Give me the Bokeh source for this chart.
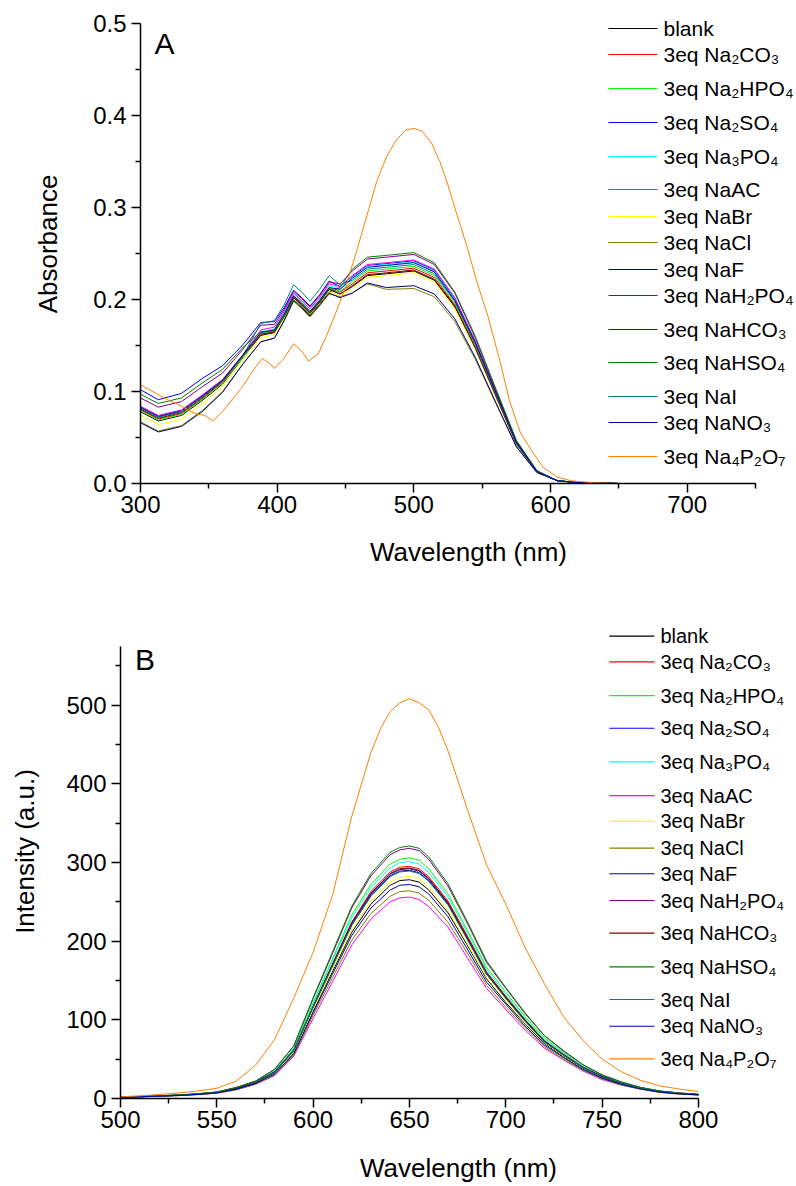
from bokeh.plotting import figure
from bokeh.models import Range1d, FixedTicker, PrintfTickFormatter, Label, ColumnDataSource
from bokeh.layouts import column
from bokeh.embed import file_html
from bokeh.resources import INLINE

FONT = "Liberation Sans"

# ---------------- Panel A: absorbance ----------------
wl_a = [300, 313, 330, 345, 360, 375, 388, 398, 405, 412, 418, 424, 431, 438, 446,
        455, 466, 480, 500, 515, 530, 545, 560, 575, 590, 605, 620, 650, 700, 750]

abs_blank = [.078, .068, .074, .090, .108, .137, .161, .164, .181, .202, .194, .185, .197, .211, .206,
             .214, .226, .228, .231, .221, .192, .147, .095, .043, .013, .003, .001, 0, 0, 0]
abs_na2co3 = [.080, .070, .076, .092, .110, .138, .162, .165, .182, .203, .195, .186, .198, .212, .208,
              .217, .229, .231, .234, .224, .194, .149, .096, .044, .013, .003, .001, 0, 0, 0]
abs_na2hpo4 = [.079, .069, .075, .091, .109, .137, .163, .166, .183, .204, .196, .187, .199, .213, .209,
               .219, .231, .233, .236, .226, .196, .150, .097, .044, .013, .003, .001, 0, 0, 0]
abs_na2so4 = [.102, .091, .098, .114, .128, .151, .175, .176, .191, .210, .202, .193, .205, .220, .214,
              .225, .237, .239, .242, .232, .201, .154, .099, .045, .013, .003, .001, 0, 0, 0]
abs_na3po4 = [.082, .072, .078, .094, .112, .139, .165, .168, .185, .206, .198, .189, .201, .215, .212,
              .224, .236, .238, .241, .231, .200, .153, .099, .045, .013, .003, .001, 0, 0, 0]
abs_naac = [.084, .074, .080, .096, .113, .140, .167, .170, .187, .207, .199, .190, .202, .217, .214,
            .226, .238, .240, .243, .233, .202, .154, .100, .045, .013, .003, .001, 0, 0, 0]
abs_nabr = [.074, .064, .070, .086, .105, .134, .158, .162, .179, .200, .192, .184, .195, .209, .204,
            .212, .224, .226, .229, .219, .190, .146, .094, .043, .013, .003, .001, 0, 0, 0]
abs_nacl = [.067, .057, .063, .079, .100, .130, .154, .158, .176, .198, .190, .181, .193, .206, .203,
            .207, .217, .211, .212, .203, .176, .135, .087, .040, .012, .003, .001, 0, 0, 0]
abs_naf = [.066, .056, .062, .078, .099, .130, .154, .158, .177, .199, .191, .182, .194, .207, .202,
           .207, .218, .213, .215, .206, .179, .137, .088, .040, .012, .003, .001, 0, 0, 0]
abs_nah2po4 = [.093, .083, .089, .105, .120, .146, .172, .173, .189, .209, .201, .192, .204, .219, .217,
               .231, .244, .246, .249, .238, .207, .158, .102, .046, .014, .003, .001, 0, 0, 0]
abs_nahco3 = [.081, .071, .077, .093, .111, .139, .162, .165, .181, .202, .194, .185, .197, .211, .206,
              .215, .227, .229, .232, .222, .193, .147, .095, .043, .013, .003, .001, 0, 0, 0]
abs_nahso4 = [.097, .087, .093, .109, .124, .148, .165, .166, .181, .200, .192, .183, .195, .208, .213,
              .233, .246, .248, .251, .240, .208, .160, .103, .047, .014, .003, .001, 0, 0, 0]
abs_nai = [.082, .072, .078, .094, .112, .139, .174, .177, .194, .216, .208, .198, .211, .226, .216,
           .221, .233, .235, .238, .228, .198, .151, .098, .044, .013, .003, .001, 0, 0, 0]
abs_nano3 = [.083, .073, .079, .095, .112, .140, .164, .167, .184, .204, .196, .187, .199, .213, .211,
             .223, .235, .237, .240, .230, .199, .153, .099, .045, .013, .003, .001, 0, 0, 0]

wl_a_p2o7 = [300, 310, 320, 330, 340, 347, 353, 360, 368, 375, 382, 389, 394, 398, 405, 412,
             418, 423, 430, 436, 443, 450, 458, 466, 473, 480, 487, 494, 500, 506, 513, 519,
             524, 531, 539, 546, 554, 563, 570, 578, 586, 595, 605, 615, 630, 650, 700, 750]
abs_na4p2o7 = [.107, .099, .091, .084, .076, .074, .068, .078, .093, .106, .122, .136, .131, .125, .136, .152,
               .144, .133, .141, .160, .186, .213, .252, .293, .329, .355, .373, .384, .386, .383, .370, .350,
               .329, .295, .257, .220, .183, .133, .090, .055, .036, .017, .007, .003, .001, 0, 0, 0]

# ---------------- Panel B: emission ----------------
wl_b = [500, 510, 520, 530, 540, 550, 560, 570, 580, 590, 600, 610, 620, 630, 640, 645, 650,
        655, 660, 670, 680, 690, 700, 710, 720, 730, 740, 750, 760, 770, 780, 790, 800]

fl_blank = [1.7, 2.2, 3.1, 3.9, 5.3, 7.2, 12, 19, 32, 58, 111, 161, 211, 247, 271, 277, 278,
            275, 265, 236, 195, 152, 122, 95, 70, 53, 38, 26, 18, 13, 8.3, 6.1, 4.7]
fl_na2co3 = [1.8, 2.4, 3.2, 4.1, 5.6, 7.7, 13, 21, 34, 62, 118, 171, 224, 263, 288, 294, 295,
             292, 282, 251, 207, 161, 130, 100, 74, 56, 40, 28, 19, 13, 8.9, 6.5, 5.0]
fl_na2hpo4 = [1.8, 2.4, 3.4, 4.3, 5.8, 8.0, 13, 21, 35, 64, 122, 177, 233, 272, 298, 304, 306,
              303, 292, 260, 214, 167, 135, 104, 77, 58, 41, 29, 20, 14, 9.2, 6.7, 5.2]
fl_na2so4 = [1.8, 2.3, 3.2, 4.1, 5.5, 7.6, 13, 20, 34, 61, 117, 169, 222, 260, 285, 291, 292,
             289, 279, 248, 204, 159, 128, 99, 73, 55, 39, 28, 19, 13, 8.8, 6.4, 5.0]
fl_na3po4 = [1.8, 2.4, 3.3, 4.2, 5.7, 7.8, 13, 21, 35, 63, 120, 175, 229, 268, 293, 300, 301,
             298, 287, 256, 211, 164, 132, 102, 75, 57, 41, 29, 20, 14, 9.0, 6.6, 5.1]
fl_naac = [1.5, 2.0, 2.8, 3.6, 4.9, 6.7, 11, 18, 29, 54, 102, 148, 195, 228, 250, 255, 256,
           253, 244, 218, 179, 140, 113, 87, 64, 49, 35, 24, 17, 12, 7.7, 5.6, 4.4]
fl_nabr = [1.7, 2.3, 3.1, 3.9, 5.4, 7.3, 12, 20, 32, 59, 113, 164, 214, 251, 275, 281, 282,
           279, 269, 240, 197, 154, 124, 96, 71, 54, 38, 27, 18, 13, 8.5, 6.2, 4.8]
fl_nacl = [1.6, 2.1, 2.9, 3.7, 5.0, 6.9, 11, 18, 30, 55, 106, 153, 201, 235, 257, 263, 264,
           261, 252, 224, 185, 144, 116, 90, 66, 50, 36, 25, 17, 12, 7.9, 5.8, 4.5]
fl_naf = [1.7, 2.3, 3.2, 4.1, 5.5, 7.5, 12, 20, 33, 61, 116, 168, 220, 258, 283, 289, 290,
          287, 277, 247, 203, 158, 128, 99, 72, 55, 39, 28, 19, 13, 8.7, 6.4, 4.9]
fl_nah2po4 = [1.9, 2.5, 3.5, 4.5, 6.0, 8.3, 14, 22, 37, 67, 127, 184, 242, 283, 310, 316, 318,
              315, 304, 270, 223, 173, 140, 108, 80, 60, 43, 30, 21, 14, 9.5, 7.0, 5.4]
fl_nahco3 = [1.8, 2.3, 3.2, 4.1, 5.6, 7.6, 13, 21, 34, 62, 117, 170, 223, 261, 286, 292, 293,
             290, 280, 249, 205, 160, 129, 100, 73, 56, 40, 28, 19, 13, 8.8, 6.4, 5.0]
fl_nahso4 = [1.9, 2.6, 3.5, 4.5, 6.1, 8.3, 14, 22, 37, 67, 128, 186, 244, 286, 313, 319, 321,
             318, 307, 273, 225, 175, 141, 109, 80, 61, 43, 30, 21, 14, 9.6, 7.1, 5.5]
fl_nai = [1.7, 2.3, 3.2, 4.0, 5.5, 7.5, 12, 20, 33, 61, 116, 168, 220, 257, 282, 288, 289,
          286, 276, 246, 202, 158, 127, 98, 72, 55, 39, 27, 19, 13, 8.7, 6.4, 4.9]
fl_nano3 = [1.6, 2.2, 3.0, 3.8, 5.2, 7.1, 12, 19, 31, 57, 109, 158, 207, 242, 265, 271, 272,
            269, 260, 231, 190, 148, 120, 92, 68, 52, 37, 26, 18, 12, 8.2, 6.0, 4.6]

wl_b_p2o7 = [500, 510, 520, 530, 540, 550, 560, 570, 580, 590, 600, 610, 620, 630, 635, 640, 645, 650,
             655, 660, 665, 670, 680, 690, 700, 710, 720, 730, 740, 750, 760, 770, 780, 790, 800]
fl_na4p2o7 = [2, 3.5, 5, 7, 9.5, 13, 22, 42, 75, 128, 186, 258, 358, 440, 470, 492, 503, 508,
              503, 494, 472, 442, 368, 297, 247, 192, 146, 104, 74, 50, 34, 23, 16, 12, 9]

labels = ["blank", "3eq Na\u2082CO\u2083", "3eq Na\u2082HPO\u2084", "3eq Na\u2082SO\u2084",
          "3eq Na\u2083PO\u2084", "3eq NaAC", "3eq NaBr", "3eq NaCl", "3eq NaF",
          "3eq NaH\u2082PO\u2084", "3eq NaHCO\u2083", "3eq NaHSO\u2084", "3eq NaI",
          "3eq NaNO\u2083", "3eq Na\u2084P\u2082O\u2087"]
colors = ["#000000", "#FF0000", "#00FF00", "#0000FF", "#00FFFF", "#FF00FF", "#FFFF00",
          "#808000", "#000080", "#800080", "#800000", "#008000", "#008080", "#0000A0", "#FF8000"]

xs_a = [wl_a] * 14 + [wl_a_p2o7]
series_a = [abs_blank, abs_na2co3, abs_na2hpo4, abs_na2so4, abs_na3po4, abs_naac, abs_nabr,
            abs_nacl, abs_naf, abs_nah2po4, abs_nahco3, abs_nahso4, abs_nai, abs_nano3, abs_na4p2o7]
xs_b = [wl_b] * 14 + [wl_b_p2o7]
series_b = [fl_blank, fl_na2co3, fl_na2hpo4, fl_na2so4, fl_na3po4, fl_naac, fl_nabr,
            fl_nacl, fl_naf, fl_nah2po4, fl_nahco3, fl_nahso4, fl_nai, fl_nano3, fl_na4p2o7]

# legend layout (page pixels): sample-line x span, text x, row centres
LEG_A = dict(x0=608, x1=657, tx=663, size="21px",
             rows=[28, 54, 88, 122, 156, 189, 216, 242, 269, 295, 329, 362, 396, 422, 456])
LEG_B = dict(x0=609, x1=654, tx=660, size="20px",
             rows=[636, 662, 696, 729, 763, 797, 823, 850, 876, 903, 936, 970, 1003, 1030, 1063])

W = 796


def style_axes(p, xbounds, ybounds, xticks, xminor, yticks, yminor, ylab_standoff, xlab_standoff):
    p.outline_line_color = None
    p.xgrid.visible = False
    p.ygrid.visible = False
    p.xaxis.ticker = FixedTicker(ticks=xticks, minor_ticks=xminor)
    p.yaxis.ticker = FixedTicker(ticks=yticks, minor_ticks=yminor)
    p.xaxis.bounds = xbounds
    p.yaxis.bounds = ybounds
    for ax in (p.xaxis[0], p.yaxis[0]):
        ax.axis_line_width = 1.5
        ax.axis_line_color = "black"
        ax.major_tick_line_width = 1.5
        ax.minor_tick_line_width = 1.5
        ax.major_tick_line_color = "black"
        ax.minor_tick_line_color = "black"
        ax.major_tick_out = 9
        ax.major_tick_in = 0
        ax.minor_tick_out = 5
        ax.minor_tick_in = 0
        ax.major_label_text_font = FONT
        ax.major_label_text_font_size = "24px"
        ax.major_label_text_color = "black"
        ax.axis_label_text_font = FONT
        ax.axis_label_text_font_size = "26px"
        ax.axis_label_text_font_style = "normal"
        ax.axis_label_text_color = "black"
    p.xaxis.major_label_standoff = 3
    p.yaxis.major_label_standoff = 5
    p.yaxis.axis_label_standoff = ylab_standoff
    p.xaxis.axis_label_standoff = xlab_standoff


def add_lines_and_legend(p, xs_list, series, leg, px2x, py2y):
    for col, xs, ys in zip(colors, xs_list, series):
        p.line(xs, ys, line_color=col, line_width=1)
    # hand-placed legend (sample lines + labels), positions converted from page pixels
    src = ColumnDataSource(dict(
        x0=[px2x(leg["x0"])] * len(labels), x1=[px2x(leg["x1"])] * len(labels),
        y=[py2y(r) for r in leg["rows"]], c=colors))
    p.segment(x0="x0", y0="y", x1="x1", y1="y", line_color="c", line_width=1.2, source=src)
    for lab, r in zip(labels, leg["rows"]):
        p.add_layout(Label(x=px2x(leg["tx"]), y=py2y(r), text=lab, text_font=FONT,
                           text_font_size=leg["size"], text_color="black",
                           text_baseline="middle", text_align="left"))


# ---- figure A ----  axes drawn: x 140..755 (300..750), y 23..483 (0..0.5); frame enlarged for legend
A_LEFT, A_AX_RIGHT, A_AX_TOP, A_BOTTOM, A_H, A_FTOP = 140, 755, 23, 483, 590, 4
a_xend = 300 + (W - A_LEFT) * (750 - 300) / (A_AX_RIGHT - A_LEFT)
a_yend = 0.5 + (A_AX_TOP - A_FTOP) * 0.5 / (A_BOTTOM - A_AX_TOP)
pa = figure(width=W, height=A_H, title=None, x_range=Range1d(300, a_xend), y_range=Range1d(0, a_yend),
            output_backend="svg", toolbar_location=None,
            min_border_left=A_LEFT, min_border_right=0, min_border_top=A_FTOP,
            min_border_bottom=A_H - A_BOTTOM,
            x_axis_label="Wavelength (nm)", y_axis_label="Absorbance")
pa.frame_align = False
style_axes(pa, (300, 750), (0, 0.5), [300, 400, 500, 600, 700], [350, 450, 550, 650, 750],
           [0, 0.1, 0.2, 0.3, 0.4, 0.5], [0.05, 0.15, 0.25, 0.35, 0.45], 27, 21)
pa.yaxis.formatter = PrintfTickFormatter(format="%.1f")
add_lines_and_legend(pa, xs_a, series_a, LEG_A,
                     lambda px: 300 + (px - A_LEFT) * 450 / (A_AX_RIGHT - A_LEFT),
                     lambda py: (A_BOTTOM - py) * 0.5 / (A_BOTTOM - A_AX_TOP))
pa.add_layout(Label(x=300, y=0.5, x_offset=14, y_offset=-20, text="A", text_font=FONT,
                    text_font_size="30px", text_color="black",
                    text_baseline="alphabetic", text_align="left"))

# ---- figure B ----  axes drawn: x 120.5..698 (500..800), y 646..1103 page (0..575)
B_LEFT, B_AX_RIGHT, B_H = 120.5, 698, 595
B_AX_TOP, B_BOTTOM, B_FTOP = 646 - A_H, 1103 - A_H, 14
b_xend = 500 + (W - B_LEFT) * (800 - 500) / (B_AX_RIGHT - B_LEFT)
b_yend = 575 + (B_AX_TOP - B_FTOP) * 575 / (B_BOTTOM - B_AX_TOP)
pb = figure(width=W, height=B_H, title=None, x_range=Range1d(500, b_xend), y_range=Range1d(0, b_yend),
            output_backend="svg", toolbar_location=None,
            min_border_left=int(B_LEFT), min_border_right=0, min_border_top=B_FTOP,
            min_border_bottom=B_H - B_BOTTOM,
            x_axis_label="Wavelength (nm)", y_axis_label="Intensity (a.u.)")
pb.frame_align = False
style_axes(pb, (500, 800), (0, 575), [500, 550, 600, 650, 700, 750, 800], [525, 575, 625, 675, 725, 775],
           [0, 100, 200, 300, 400, 500], [50, 150, 250, 350, 450, 550], 23, 22)
add_lines_and_legend(pb, xs_b, series_b, LEG_B,
                     lambda px: 500 + (px - B_LEFT) * 300 / (B_AX_RIGHT - B_LEFT),
                     lambda py: (B_BOTTOM + A_H - py) * 575 / (B_BOTTOM - B_AX_TOP))
pb.add_layout(Label(x=500, y=575, x_offset=14.5, y_offset=-13, text="B", text_font=FONT,
                    text_font_size="30px", text_color="black",
                    text_baseline="alphabetic", text_align="left"))

layout = column(pa, pb)
open("out.html", "w").write(file_html(layout, INLINE))
